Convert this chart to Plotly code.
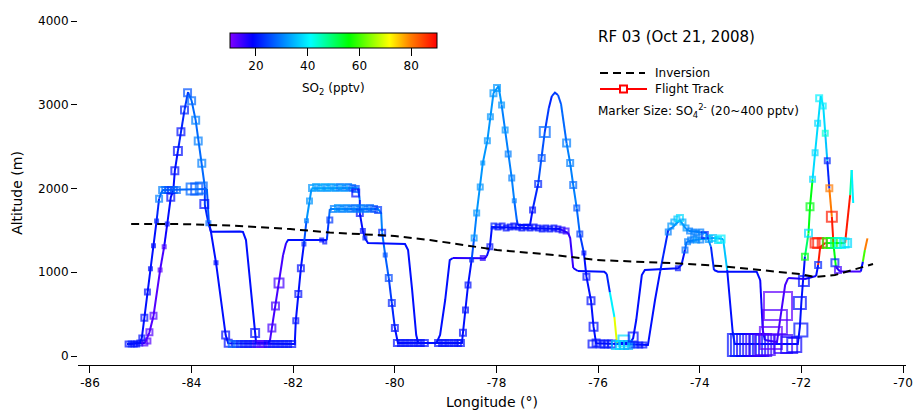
import plotly.graph_objects as go

# ---------------- data ----------------
# flight track (longitude, altitude m, SO2 pptv) in flight order
trk_lon = [-70.70, -70.75, -70.79, -70.83, -71.24, -71.32, -71.37, -71.40, -71.45, -71.49,
           -71.53, -71.57, -71.62, -71.68, -71.73, -71.78, -71.83, -71.86, -71.93, -71.97,
           -72.00, -72.03, -72.07, -73.31, -73.35, -73.46, -73.54, -73.74, -74.10, -74.26,
           -74.29, -74.36, -74.43, -75.08, -75.14, -75.25, -75.31, -75.37, -75.63, -75.68,
           -75.77, -75.83, -75.88, -76.40, -76.49, -76.55, -76.59, -76.75, -77.54, -78.09,
           -78.13, -78.19, -78.23, -78.86, -78.92, -79.01, -79.11, -79.18, -79.94, -80.00,
           -80.06, -80.12, -80.19, -80.25, -80.27, -80.33, -81.28, -81.30, -81.34, -81.43,
           -82.10, -82.14, -82.20, -82.28, -82.35, -82.42, -82.46, -82.50, -82.73, -82.75,
           -82.85, -82.93, -82.99, -83.05, -83.62, -83.67, -83.74, -83.74, -83.80, -83.87,
           -83.92, -84.00, -84.07, -84.14, -84.21, -84.27, -84.33, -84.36, -84.41, -84.48,
           -84.54, -84.62, -84.75, -84.83, -84.92, -85.27, -85.02, -84.98, -84.93, -84.87,
           -84.81, -84.75, -84.69, -84.64, -84.60, -84.56, -83.70, -83.66, -83.62, -83.52,
           -83.33, -83.28, -81.97, -81.95, -81.90, -81.85, -81.79, -81.74, -81.68, -81.64,
           -80.73, -80.69, -80.69, -80.63, -80.59, -80.53, -79.80, -79.74, -79.66, -79.58,
           -79.54, -78.68, -78.66, -78.61, -78.56, -78.49, -78.44, -78.39, -78.32, -78.27,
           -78.18, -78.12, -78.06, -77.96, -77.90, -77.83, -77.77, -77.70, -77.65, -77.60,
           -77.58, -77.34, -77.29, -77.18, -77.11, -77.05, -76.97, -76.91, -76.85, -76.79,
           -76.73, -76.62, -76.55, -76.49, -76.42, -76.36, -76.28, -76.23, -76.14, -76.09,
           -76.04, -75.02, -74.88, -74.78, -74.62, -74.53, -74.39, -74.27, -74.20, -73.88,
           -73.78, -73.72, -73.64, -72.88, -72.81, -72.76, -72.72, -72.48, -72.42, -72.32,
           -72.26, -71.93, -71.71, -71.67, -71.63, -71.53, -71.14, -71.04, -71.01, -70.98]
trk_alt = [1405, 1266, 1126, 1009, 1009, 1063, 1346, 1663, 2002, 2332,
           2659, 2985, 3104, 2778, 2427, 2110, 1783, 1465, 1186, 907,
           645, 346, 143, 143, 275, 1027, 1397, 1409, 1385, 1365,
           1266, 1087, 1047, 1027, 967, 430, 215, 155, 155, 466,
           764, 979, 1007, 1015, 1051, 1409, 1469, 1516, 1528, 1540,
           1305, 1194, 1167, 1170, 1146, 669, 251, 159, 155, 334,
           633, 931, 1206, 1472, 1707, 1755, 1755, 1624, 1385, 1385,
           1385, 1349, 1206, 872, 597, 334, 179, 155, 155, 275,
           907, 1385, 1481, 1487, 1484, 1588, 1803, 2018, 2301, 2567,
           2814, 3048, 3152, 2937, 2678, 2448, 2213, 1982, 1895, 1576,
           1305, 1027, 481, 283, 155, 143, 155, 215, 457, 764,
           1042, 1317, 1612, 1878, 1946, 1982, 1994, 1600, 1484, 1114,
           251, 152, 143, 421, 740, 1047, 1337, 1615, 1851, 2002,
           2006, 1863, 1707, 1492, 1409, 1349, 1337, 1266, 788, 251,
           155, 155, 278, 549, 848, 1146, 1409, 1707, 2018, 2304,
           2571, 2857, 3137, 3224, 3001, 2698, 2412, 2125, 1854, 1624,
           1564, 1564, 1743, 2054, 2364, 2675, 2961, 3104, 3144, 3116,
           3009, 2540, 2301, 2042, 1763, 1457, 1230, 947, 660, 350,
           152, 131, 669, 1007, 1504, 1540, 1624, 1516, 1492, 1469,
           1305, 1027, 1007, 1007, 907, 310, 191, 167, 430, 848,
           931, 919, 955, 1087, 1301, 1349, 1349, 1922, 2221, 1827]
trk_so2 = [80, 60, 20, 14, 16, 55, 88, 80, 22, 36,
           38, 38, 38, 38, 38, 55, 55, 50, 20, 20,
           20, 20, 20, 20, 20, 36, 34, 33, 30, 28,
           20, 20, 20, 20, 20, 20, 20, 20, 70, 40,
           22, 20, 20, 18, 15, 15, 16, 20, 20, 20,
           20, 16, 16, 20, 20, 20, 20, 20, 20, 22,
           24, 27, 28, 30, 30, 30, 28, 24, 20, 20,
           20, 15, 14, 14, 14, 14, 16, 18, 20, 20,
           20, 20, 20, 20, 20, 22, 24, 28, 28, 28,
           28, 28, 24, 22, 22, 20, 20, 20, 20, 18,
           14, 13, 13, 13, 18, 20, 20, 20, 20, 20,
           20, 20, 22, 26, 28, 28, 26, 20, 20, 20,
           20, 20, 20, 20, 20, 20, 26, 32, 32, 33,
           30, 22, 20, 20, 20, 20, 20, 20, 20, 20,
           20, 20, 20, 20, 20, 26, 30, 32, 32, 32,
           32, 32, 32, 32, 30, 30, 30, 30, 28, 24,
           20, 20, 22, 26, 26, 24, 22, 24, 24, 26,
           28, 30, 30, 30, 28, 24, 20, 20, 20, 20,
           20, 20, 20, 22, 28, 30, 32, 30, 30, 30,
           22, 20, 20, 20, 18, 16, 14, 14, 14, 14,
           16, 18, 20, 88, 88, 55, 88, 47, 40, 40]

# samples with markers (longitude, altitude m, SO2 pptv, SO4 pptv)
smp_lon = [-85.25, -85.19, -85.13, -85.08, -85.02, -84.92, -84.86,
           -84.98, -84.93, -84.87, -84.81, -84.75, -84.69, -84.64,
           -84.58, -84.52, -84.46, -84.41, -84.35, -84.29,
           -83.99, -83.90, -83.81, -83.75,
           -84.83, -84.75, -84.62, -84.54, -84.48, -84.41, -84.33, -84.27, -84.21, -84.14, -84.08,
           -84.00, -83.92, -83.87, -83.80, -83.67, -83.52, -83.33, -83.28,
           -83.21, -83.13, -83.05, -82.97, -82.89, -82.81, -82.73, -82.65, -82.58, -82.50,
           -82.42, -82.34, -82.26, -82.18, -82.10, -82.02,
           -82.75, -82.42, -82.35, -82.28,
           -81.95, -81.90, -81.85, -81.79, -81.74, -81.68,
           -81.63, -81.55, -81.47, -81.39, -81.32, -81.24, -81.16, -81.08, -81.00, -80.92, -80.84, -80.77,
           -80.77, -80.69, -80.63, -80.59,
           -81.20, -81.12, -81.04, -80.96, -80.88, -80.80, -80.73, -80.65, -80.57, -80.49, -80.41, -80.33,
           -80.25, -80.19, -80.12, -80.06, -80.00, -81.28, -81.44, -81.38,
           -79.96, -79.88, -79.80, -79.72, -79.64, -79.56, -79.49, -79.41,
           -79.15, -79.07, -79.00, -78.92, -78.84, -78.76, -78.70,
           -78.66, -78.61, -78.56, -78.49, -78.44, -78.39, -78.32, -78.27, -78.18, -78.12, -78.06, -77.99,
           -77.90, -77.83, -77.77, -77.70, -77.65, -78.27, -78.13,
           -78.05, -77.97, -77.89, -77.81, -77.73, -77.66, -77.58, -77.50, -77.42, -77.34,
           -77.26, -77.18, -77.10, -77.03, -76.95, -76.87, -76.79, -76.71, -76.63,
           -77.29, -77.18, -77.11, -77.05, -76.62, -76.55, -76.49, -76.42, -76.36, -76.28,
           -76.23, -76.14, -76.09, -76.04,
           -76.12, -75.96, -75.88, -75.80, -75.73, -75.65, -75.57, -75.49, -75.41,
           -75.33, -75.25, -75.18, -75.10, -75.49, -75.31,
           -74.43, -74.29, -74.24,
           -74.18, -74.12, -74.06, -73.98, -73.90, -73.82, -73.74, -73.64, -73.58,
           -74.62, -74.57, -74.51, -74.45, -74.39, -74.33, -74.27, -74.20, -74.12, -74.06, -73.98,
           -73.23, -73.17, -73.11, -73.05, -72.99, -72.93, -72.87, -72.81,
           -72.72, -72.60, -72.52, -72.46, -72.36, -72.24, -72.14,
           -72.01, -72.03, -71.95,
           -71.93, -71.86, -71.83, -71.78, -71.73, -71.68, -71.65, -71.57, -71.53, -71.49,
           -71.45, -71.40, -71.34, -71.28, -71.67,
           -71.73, -71.67, -71.59,
           -71.48, -71.40, -71.32, -71.24, -71.16, -71.10]
smp_alt = [143, 143, 143, 143, 155, 155, 179,
           215, 457, 764, 1042, 1317, 1612, 1878,
           1982, 1982, 1982, 1982, 1982, 1982,
           1994, 1994, 2006, 1815,
           283, 481, 1027, 1305, 1576, 1895, 2213, 2448, 2678, 2937, 3144,
           3048, 2814, 2567, 2301, 1584, 1114, 251, 152,
           143, 143, 143, 143, 143, 143, 143, 143, 143, 143,
           143, 143, 143, 143, 143, 143,
           275, 334, 597, 872,
           421, 740, 1047, 1337, 1615, 1851,
           2006, 2018, 2006, 2018, 2006, 2018, 2006, 2018, 2006, 2018, 2006, 1994,
           1946, 1707, 1492, 1409,
           1755, 1767, 1755, 1767, 1755, 1767, 1755, 1767, 1755, 1767, 1755, 1743,
           1472, 1206, 931, 633, 334, 1624, 1385, 1361,
           155, 155, 155, 155, 155, 155, 155, 155,
           155, 155, 155, 155, 155, 155, 155,
           278, 549, 848, 1146, 1409, 1707, 2018, 2304, 2571, 2857, 3137, 3200,
           2997, 2698, 2412, 2125, 1854, 1170, 1305,
           1552, 1540, 1552, 1528, 1540, 1552, 1540, 1528, 1540, 1528,
           1540, 1528, 1516, 1528, 1516, 1528, 1516, 1504, 1492,
           1743, 2054, 2364, 2675, 2543, 2304, 2042, 1767, 1457, 1230,
           947, 660, 350, 155,
           143, 143, 143, 143, 143, 131, 131, 131, 131,
           131, 131, 131, 131, 179, 227,
           1047, 1266, 1365,
           1385, 1397, 1385, 1385, 1445, 1397, 1409, 1385, 1397,
           1481, 1552, 1600, 1636, 1648, 1600, 1528, 1492, 1481, 1469, 1481,
           131, 131, 131, 131, 131, 131, 131, 131,
           131, 215, 406, 597, 143, 131, 131,
           310, 633, 896,
           1186, 1465, 1783, 2110, 2427, 2778, 3077, 2985, 2659, 2332,
           2002, 1663, 1114, 1027, 1087,
           1349, 1349, 1349,
           1349, 1349, 1349, 1349, 1349, 1349]
smp_so2 = [20, 22, 20, 20, 20, 13, 13,
           20, 20, 20, 20, 20, 22, 30,
           30, 28, 26, 24, 26, 28,
           28, 26, 28, 20,
           13, 13, 13, 14, 20, 20, 20, 20, 20, 22, 26,
           28, 30, 30, 30, 28, 20, 20, 20,
           28, 25, 22, 20, 20, 20, 16, 14, 14, 18,
           20, 20, 20, 20, 20, 20,
           20, 14, 14, 14,
           20, 20, 20, 22, 30, 32,
           32, 33, 32, 34, 32, 33, 32, 30, 32, 30, 28, 26,
           20, 20, 20, 22,
           30, 32, 30, 31, 30, 28, 30, 29, 30, 28, 26, 24,
           22, 26, 25, 22, 20, 24, 20, 20,
           20, 20, 20, 20, 20, 20, 20, 20,
           20, 20, 20, 20, 20, 20, 20,
           20, 20, 20, 22, 32, 32, 32, 32, 32, 32, 32, 32,
           32, 32, 30, 30, 30, 16, 20,
           22, 20, 20, 20, 20, 20, 20, 20, 20, 20,
           20, 20, 20, 20, 20, 20, 18, 18, 15,
           20, 22, 26, 28, 30, 30, 28, 26, 24, 20,
           20, 20, 20, 20,
           20, 20, 20, 20, 20, 36, 38, 36, 34,
           26, 22, 20, 20, 38, 20,
           20, 28, 30,
           30, 30, 32, 30, 22, 32, 36, 38, 40,
           30, 32, 34, 36, 38, 34, 32, 30, 30, 30, 30,
           20, 20, 22, 18, 20, 18, 16, 16,
           14, 12, 13, 12, 15, 17, 18,
           20, 20, 20,
           55, 38, 55, 38, 38, 38, 40, 40, 44, 22,
           80, 88, 22, 14, 22,
           88, 88, 88,
           58, 55, 48, 42, 40, 38]
smp_so4 = [48, 48, 48, 48, 48, 48, 48,
           48, 62, 48, 20, 20, 20, 62,
           62, 62, 62, 62, 62, 62,
           133, 133, 133, 90,
           62, 62, 20, 20, 20, 76, 76, 90, 76, 76, 76,
           76, 76, 76, 76, 34, 20, 76, 76,
           62, 62, 62, 62, 62, 62, 62, 62, 62, 62,
           62, 62, 62, 62, 62, 62,
           90, 76, 76, 104,
           48, 62, 62, 20, 20, 48,
           62, 62, 62, 62, 62, 62, 62, 62, 62, 62, 62, 62,
           76, 62, 34, 20,
           62, 62, 62, 62, 62, 62, 62, 62, 62, 62, 62, 62,
           62, 20, 62, 62, 62, 48, 20, 20,
           62, 62, 62, 62, 62, 62, 62, 62,
           62, 62, 62, 62, 62, 62, 62,
           62, 48, 48, 20, 48, 48, 48, 20, 48, 48, 62, 62,
           48, 48, 48, 48, 20, 34, 48,
           48, 48, 48, 48, 48, 48, 48, 48, 48, 48,
           48, 48, 48, 48, 48, 48, 48, 48, 48,
           48, 62, 62, 118, 76, 62, 62, 48, 48, 20,
           62, 76, 90, 76,
           76, 76, 76, 76, 76, 90, 90, 90, 90,
           48, 48, 48, 48, 133, 104,
           34, 48, 48,
           48, 48, 48, 48, 62, 62, 62, 62, 76,
           48, 48, 48, 48, 62, 48, 48, 48, 48, 48, 48,
           287, 287, 287, 287, 287, 287, 287, 287,
           259, 287, 315, 372, 231, 203, 175,
           161, 147, 118,
           62, 76, 76, 48, 48, 48, 62, 48, 48, 48,
           62, 118, 76, 62, 62,
           104, 118, 104,
           118, 118, 118, 118, 104, 90]

# boundary-layer inversion height
inv_lon = [-85.19, -84.23, -83.24, -82.06, -81.28, -80.00, -79.31, -77.99, -76.85,
           -76.02, -74.55, -73.60, -72.81, -72.03, -71.73, -71.34, -70.59]
inv_alt = [1576, 1576, 1558, 1516, 1475, 1433, 1385, 1266, 1206,
           1146, 1110, 1075, 1027, 979, 943, 967, 1098]

lon_ticks = [-86, -84, -82, -80, -78, -76, -74, -72, -70]
alt_ticks = [0, 1000, 2000, 3000, 4000]
so2_ticks = [20, 40, 60, 80]
SO2_MIN, SO2_MAX = 10, 90
SO4_MIN, SO4_MAX = 20, 400

# ---------------- styling helpers ----------------
FONT = "DejaVu Sans"
CS = [[0.0, (128, 0, 255)], [0.11, (0, 0, 255)], [0.39, (0, 255, 255)],
      [0.575, (0, 255, 0)], [0.77, (255, 255, 0)], [0.87, (255, 128, 0)], [1.0, (255, 0, 0)]]
COLORSCALE = [[p, "rgb(%d,%d,%d)" % c] for p, c in CS]


def so2_color(v):
    t = (v - SO2_MIN) / (SO2_MAX - SO2_MIN)
    t = min(max(t, 0.0), 1.0)
    for (p0, c0), (p1, c1) in zip(CS[:-1], CS[1:]):
        if t <= p1:
            f = (t - p0) / (p1 - p0) if p1 > p0 else 0
            return "rgb(%d,%d,%d)" % tuple(round(a + (b - a) * f) for a, b in zip(c0, c1))
    return "rgb(%d,%d,%d)" % CS[-1][1]


def so4_size(v):
    return 3 + (v - SO4_MIN) * 27.0 / (SO4_MAX - SO4_MIN)


fig = go.Figure()

# flight track line, coloured segment by segment by SO2
n = len(trk_lon)
i = 0
while i < n - 1:
    c = trk_so2[i]
    j = i
    while j + 1 < n - 1 and trk_so2[j + 1] == c:
        j += 1
    fig.add_trace(go.Scatter(
        x=trk_lon[i:j + 2], y=trk_alt[i:j + 2], mode="lines",
        line=dict(color=so2_color(c), width=2),
        hoverinfo="skip", showlegend=False))
    i = j + 1

# sample markers: colour = SO2, size = SO4
fig.add_trace(go.Scatter(
    x=smp_lon, y=smp_alt, mode="markers", showlegend=False, hoverinfo="skip",
    marker=dict(
        symbol="square-open",
        size=[so4_size(v) for v in smp_so4],
        color=smp_so2, cmin=SO2_MIN, cmax=SO2_MAX, colorscale=COLORSCALE,
        line=dict(width=2),
        showscale=True,
        colorbar=dict(
            orientation="h", x=0.3086, xanchor="center", y=0.965, yanchor="top",
            len=0.25, lenmode="fraction", thickness=15, thicknessmode="pixels",
            xpad=0, ypad=0, outlinewidth=1, outlinecolor="black",
            ticks="outside", ticklen=8, tickwidth=1, tickcolor="black",
            tickvals=so2_ticks, tickfont=dict(family=FONT, size=12, color="black"),
            title=dict(text=""),
        ),
    ),
))

# inversion
fig.add_trace(go.Scatter(
    x=inv_lon, y=inv_alt, mode="lines", showlegend=False,
    line=dict(color="black", width=2, dash="8px,5px"), hoverinfo="skip"))

# ---------------- layout ----------------
W, H = 915, 412
L, R, T, B = 78, 9, 21, 47
PW, PH = W - L - R, H - T - B


def px(xs):
    return (xs - L) / PW


def py(ys):
    return (H - B - ys) / PH


shapes = [
    dict(type="line", xref="paper", yref="paper", x0=px(600), x1=px(645), y0=py(73), y1=py(73),
         line=dict(color="black", width=2, dash="8px,5px")),
    dict(type="line", xref="paper", yref="paper", x0=px(600), x1=px(647), y0=py(89), y1=py(89),
         line=dict(color="red", width=2)),
    dict(type="rect", xref="paper", yref="paper", x0=px(620), x1=px(627), y0=py(92.5), y1=py(85.5),
         line=dict(color="red", width=2), fillcolor="white"),
]

annotations = [
    dict(text="SO<sub>2</sub> (pptv)", x=px(333.5), y=py(89), xref="paper", yref="paper",
         xanchor="center", yanchor="middle", showarrow=False,
         font=dict(family=FONT, size=12, color="black")),
    dict(text="RF 03 (Oct 21, 2008)", x=px(596), y=py(37), xref="paper", yref="paper",
         xanchor="left", yanchor="middle", showarrow=False,
         font=dict(family=FONT, size=15, color="black")),
    dict(text="Inversion", x=px(653), y=py(73), xref="paper", yref="paper",
         xanchor="left", yanchor="middle", showarrow=False,
         font=dict(family=FONT, size=12, color="black")),
    dict(text="Flight Track", x=px(653), y=py(89), xref="paper", yref="paper",
         xanchor="left", yanchor="middle", showarrow=False,
         font=dict(family=FONT, size=12, color="black")),
    dict(text="Marker Size: SO<sub>4</sub><sup>2-</sup> (20~400 pptv)", x=px(596), y=py(111),
         xref="paper", yref="paper", xanchor="left", yanchor="middle", showarrow=False,
         font=dict(family=FONT, size=12, color="black")),
]

fig.update_layout(
    template="none",
    width=W, height=H, autosize=False,
    margin=dict(l=L, r=R, t=T, b=B, pad=0, autoexpand=False),
    paper_bgcolor="white", plot_bgcolor="white",
    font=dict(family=FONT, size=12, color="black"),
    showlegend=False, hovermode=False,
    shapes=shapes, annotations=annotations,
    xaxis=dict(
        range=[-86.236, -69.941], tickvals=lon_ticks, ticktext=[str(v) for v in lon_ticks],
        ticks="outside", ticklen=7, tickwidth=1, tickcolor="black",
        showline=True, linecolor="black", linewidth=1, mirror=False,
        showgrid=False, zeroline=False, automargin=False,
        tickfont=dict(family=FONT, size=12, color="black"),
        title=dict(text="Longitude (°)", standoff=7, font=dict(family=FONT, size=14, color="black")),
    ),
    yaxis=dict(
        range=[-107, 4000], tickvals=alt_ticks, ticktext=[str(v) for v in alt_ticks],
        ticks="outside", ticklen=6, tickwidth=1, tickcolor="black",
        showline=False, showgrid=False, zeroline=False, automargin=False,
        tickfont=dict(family=FONT, size=12, color="black"),
        title=dict(text="Altitude (m)", standoff=12, font=dict(family=FONT, size=14, color="black")),
    ),
)

# remove the default 8 px page margin so the 915x412 figure fills the window exactly
fig.write_html("out.html", config={"displayModeBar": False, "staticPlot": True},
               post_script="document.body.style.margin='0';")
